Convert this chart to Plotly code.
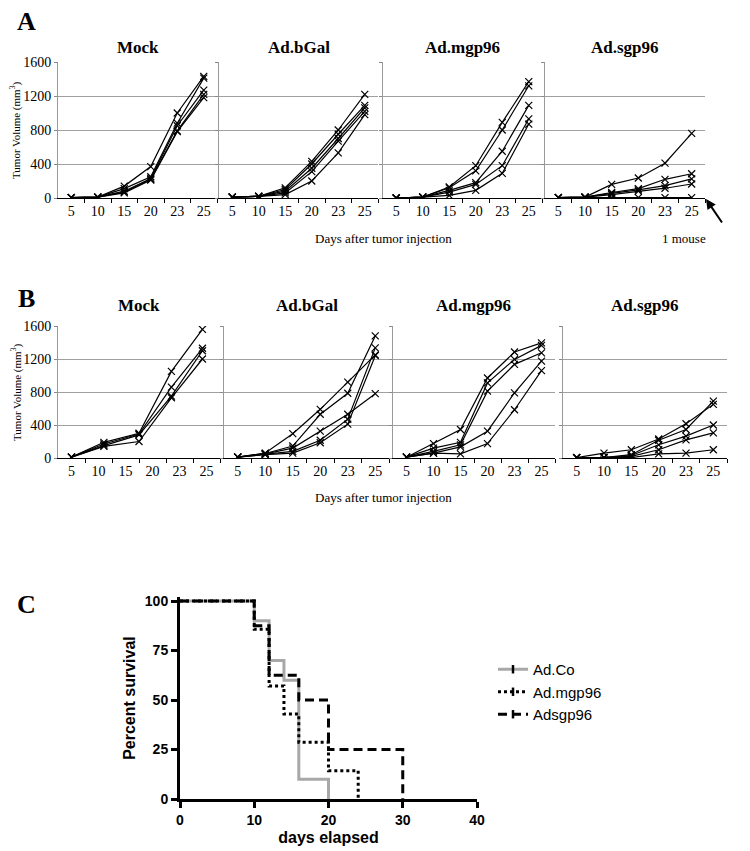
import plotly.graph_objects as go

# ---------------- data ----------------
day_labels = ["5", "10", "15", "20", "23", "25"]
day_pos = [0, 1, 2, 3, 4, 5]
b_mock_pos = [0, 1.2, 2.5, 3.7, 4.85]

# Panel A (tumor volume, mm3)
a_mock = [
    [5, 10, 140, 370, 1000, 1430],
    [5, 10, 110, 250, 880, 1410],
    [5, 10, 80, 230, 850, 1270],
    [5, 10, 70, 220, 790, 1220],
    [5, 10, 60, 210, 780, 1180],
]
a_bgal = [
    [10, 20, 120, 430, 800, 1220],
    [10, 20, 100, 400, 750, 1090],
    [10, 20, 80, 350, 700, 1060],
    [10, 20, 60, 310, 670, 1020],
    [10, 20, 40, 200, 530, 980],
]
a_mgp96 = [
    [0, 10, 130, 380, 890, 1370],
    [0, 10, 120, 320, 800, 1320],
    [0, 10, 90, 180, 550, 1090],
    [0, 10, 70, 160, 380, 930],
    [0, 10, 30, 90, 290, 870],
]
a_sgp96 = [
    [5, 10, 160, 235, 410, 760],
    [5, 10, 65, 110, 220, 285],
    [5, 10, 55, 95, 145, 225],
    [5, 10, 40, 80, 115, 165],
    [5, 5, 5, 5, 5, 5],
]

# Panel B
b_mock = [
    [10, 190, 300, 1050, 1560],
    [10, 170, 290, 860, 1330],
    [10, 150, 280, 750, 1300],
    [10, 140, 200, 730, 1200],
]
b_bgal = [
    [10, 60, 295, 590, 920, 1250],
    [10, 55, 145, 530, 785, 1480],
    [10, 50, 120, 325, 530, 780],
    [10, 45, 80, 215, 470, 1335],
    [10, 40, 60, 185, 410, 1240],
]
b_mgp96 = [
    [10, 175, 345, 970, 1285, 1395],
    [10, 120, 190, 910, 1195, 1365],
    [10, 80, 160, 810, 1135, 1275],
    [10, 60, 135, 325, 790, 1175],
    [10, 60, 50, 175, 585, 1060],
]
b_sgp96 = [
    [5, 60, 100, 230, 415, 650],
    [5, 5, 40, 215, 345, 690],
    [5, 5, 30, 160, 265, 400],
    [5, 5, 20, 100, 220, 305],
    [5, 5, 5, 50, 60, 100],
]

panel_titles = ["Mock", "Ad.bGal", "Ad.mgp96", "Ad.sgp96"]
vol_ticks = [0, 400, 800, 1200, 1600]

# Panel C (Kaplan-Meier)
adco_t = [0, 10, 12, 14, 16, 20]
adco_s = [100, 90, 70, 60, 10, 0]
mgp_t = [0, 10, 12, 14, 16, 20, 24]
mgp_s = [100, 85.7, 57.1, 42.9, 28.6, 14.3, 0]
sgp_t = [0, 10, 12, 16, 20, 30]
sgp_s = [100, 87.5, 62.5, 50, 25, 0]
km_names = ["Ad.Co", "Ad.mgp96", "Adsgp96"]

# ---------------- layout helpers ----------------
# The page body has an 8px margin, so the figure is drawn 8px in from the
# top-left corner; reference pixel coordinates are converted accordingly.
OFF = 8
W, H = 750 - OFF, 851 - OFF
SERIF = "Liberation Serif"
SANS = "Liberation Sans"


def px(x):
    return (x - OFF) / W


def py(y):
    return 1 - (y - OFF) / H


def xd(a, b):
    return [px(a), px(b)]


def yd(top, bottom):
    return [py(bottom), py(top)]


fig = go.Figure()

a_x = [(58, 217), (219, 378), (383, 542), (545, 705)]
b_x = [(58, 220), (224, 389), (393, 555), (563, 727)]
a_y = (62, 198)
b_y = (326, 458)

panels = [
    (a_mock, day_pos, a_x[0], a_y),
    (a_bgal, day_pos, a_x[1], a_y),
    (a_mgp96, day_pos, a_x[2], a_y),
    (a_sgp96, day_pos, a_x[3], a_y),
    (b_mock, b_mock_pos, b_x[0], b_y),
    (b_bgal, day_pos, b_x[1], b_y),
    (b_mgp96, day_pos, b_x[2], b_y),
    (b_sgp96, day_pos, b_x[3], b_y),
]

for i, (series, xs, (x0, x1), (yt, yb)) in enumerate(panels):
    n = i + 1
    xa = "x" if n == 1 else f"x{n}"
    ya = "y" if n == 1 else f"y{n}"
    for s in series:
        fig.add_trace(go.Scatter(
            x=xs, y=s, xaxis=xa, yaxis=ya, mode="lines+markers",
            line=dict(color="black", width=1.2),
            marker=dict(symbol="x-thin", size=7, line=dict(color="black", width=1.2)),
            showlegend=False, hoverinfo="skip"))
    first = (n in (1, 5))
    fig.layout[f"xaxis{'' if n == 1 else n}"] = dict(
        domain=xd(x0, x1), anchor=ya, range=[-0.5, 5.5], automargin=False,
        tickmode="array", tickvals=day_pos, ticktext=day_labels, ticks="",
        tickfont=dict(family=SERIF, size=14, color="black"),
        showline=True, linecolor="black", linewidth=1, showgrid=False, zeroline=False,
        minor=dict(tickmode="array", tickvals=[0.5, 1.5, 2.5, 3.5, 4.5, 5.5],
                   ticks="outside", ticklen=4, tickcolor="black", tickwidth=1, showgrid=False),
        fixedrange=True)
    fig.layout[f"yaxis{'' if n == 1 else n}"] = dict(
        domain=yd(yt, yb), anchor=xa, range=[0, 1600], automargin=False,
        tickmode="array", tickvals=vol_ticks, showticklabels=first,
        ticks="outside", ticklen=3, tickcolor="#888",
        tickfont=dict(family=SERIF, size=14, color="black"),
        showline=True, linecolor="#999", linewidth=1,
        showgrid=True, gridcolor="#a0a0a0", gridwidth=1, zeroline=False,
        fixedrange=True)

# panel titles
for k, t in enumerate(panel_titles):
    for (xs_, ypix) in ((a_x, 48), (b_x, 305)):
        x0, x1 = xs_[k]
        fig.add_annotation(x=px((x0 + x1) / 2), y=py(ypix), xref="paper", yref="paper",
                           text=f"<b>{t}</b>", showarrow=False,
                           font=dict(family=SERIF, size=17, color="black"),
                           xanchor="center", yanchor="middle")

# y axis titles
for ypix in ((62 + 198) / 2, (326 + 458) / 2):
    fig.add_annotation(x=px(16), y=py(ypix), xref="paper", yref="paper",
                       text="Tumor Volume (mm<sup>3</sup>)", textangle=-90, showarrow=False,
                       font=dict(family=SERIF, size=11, color="black"),
                       xanchor="center", yanchor="middle")

# x axis titles
for ypix in (238, 497):
    fig.add_annotation(x=px(383), y=py(ypix), xref="paper", yref="paper",
                       text="Days after tumor injection", showarrow=False,
                       font=dict(family=SERIF, size=13, color="black"),
                       xanchor="center", yanchor="middle")

# 1 mouse note + arrow
fig.add_annotation(x=px(684), y=py(238), xref="paper", yref="paper",
                   text="1 mouse", showarrow=False,
                   font=dict(family=SERIF, size=13, color="black"),
                   xanchor="center", yanchor="middle")
fig.add_annotation(x=px(706), y=py(199), xref="paper", yref="paper",
                   ax=17, ay=25, axref="pixel", ayref="pixel", text="",
                   showarrow=True, arrowhead=2, arrowsize=1, arrowwidth=2, arrowcolor="black")

# panel letters
for letter, ypix in (("A", 22), ("B", 298), ("C", 604)):
    fig.add_annotation(x=px(26), y=py(ypix), xref="paper", yref="paper",
                       text=f"<b>{letter}</b>", showarrow=False,
                       font=dict(family=SERIF, size=26, color="black"),
                       xanchor="center", yanchor="middle")

# ---------------- Panel C ----------------
km = [
    (adco_t, adco_s, dict(color="#a8a8a8", width=3, dash="solid")),
    (mgp_t, mgp_s, dict(color="black", width=3, dash="dot")),
    (sgp_t, sgp_s, dict(color="black", width=3, dash="9px,5px")),
]
for (t, s, ln), name in zip(km, km_names):
    fig.add_trace(go.Scatter(x=t, y=s, xaxis="x9", yaxis="y9", mode="lines",
                             line=dict(shape="hv", **ln), showlegend=False, hoverinfo="skip"))
for (t, s, ln), name in zip(km, km_names):
    fig.add_trace(go.Scatter(x=[None], y=[None], xaxis="x9", yaxis="y9", mode="lines+markers",
                             name=name, line=dict(**ln),
                             marker=dict(symbol="line-ns", size=6,
                                         line=dict(color="black", width=2.5)),
                             showlegend=True))

c_x0, c_x1 = 180, 477
c_y0 = 799
ppu = (799 - 601) / 100.0
c_top = c_y0 - 102 * ppu
fig.layout["xaxis9"] = dict(domain=xd(c_x0, c_x1), anchor="y9", range=[0, 40], automargin=False,
                            tickmode="array", tickvals=[0, 10, 20, 30, 40],
                            ticks="outside", ticklen=6, tickwidth=3, tickcolor="black",
                            tickfont=dict(family=SANS, size=14, color="black", weight="bold"),
                            showline=True, linecolor="black", linewidth=3,
                            showgrid=False, zeroline=False, fixedrange=True,
                            title=dict(text="<b>days elapsed</b>", standoff=6,
                                       font=dict(family=SANS, size=16, color="black")))
fig.layout["yaxis9"] = dict(domain=yd(c_top, c_y0), anchor="x9", range=[0, 102], automargin=False,
                            tickmode="array", tickvals=[0, 25, 50, 75, 100],
                            ticks="outside", ticklen=6, tickwidth=3, tickcolor="black",
                            tickfont=dict(family=SANS, size=14, color="black", weight="bold"),
                            showline=True, linecolor="black", linewidth=3,
                            showgrid=False, zeroline=False, fixedrange=True,
                            title=dict(text="<b>Percent survival</b>", standoff=6,
                                       font=dict(family=SANS, size=16, color="black")))

fig.update_layout(
    width=W, height=H, margin=dict(l=0, r=0, t=0, b=0, autoexpand=False),
    paper_bgcolor="white", plot_bgcolor="white",
    legend=dict(x=px(493), y=py(653), xanchor="left", yanchor="top",
                font=dict(family=SANS, size=15, color="black"),
                bgcolor="rgba(0,0,0,0)", itemwidth=30, tracegroupgap=0),
)

fig.write_html("out.html")
